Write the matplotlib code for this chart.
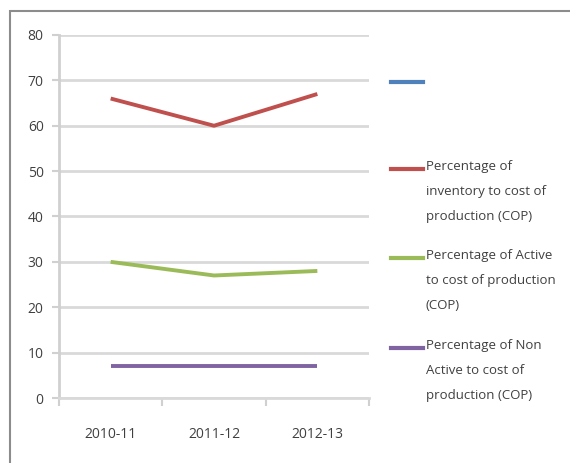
import matplotlib
matplotlib.use("Agg")
import matplotlib.pyplot as plt
from matplotlib.lines import Line2D
from matplotlib.patches import Rectangle
from matplotlib import font_manager

available = {f.name for f in font_manager.fontManager.ttflist}
fam = [f for f in ["Liberation Sans Narrow", "Open Sans", "DejaVu Sans"] if f in available]
plt.rcParams['font.family'] = fam

categories = ["2010-11", "2011-12", "2012-13"]
series_names = [
    "",
    "Percentage of\ninventory to cost of\nproduction (COP)",
    "Percentage of Active\nto cost of production\n(COP)",
    "Percentage of Non\nActive to cost of\nproduction (COP)",
]
series_values = [
    [None, None, None],
    [66, 60, 67],
    [30, 27, 28],
    [7, 7, 7],
]
colors = ["#4f81bd", "#c0504d", "#9bbb59", "#8064a2"]
yticks = [0, 10, 20, 30, 40, 50, 60, 70, 80]

W, H = 570, 463
fig = plt.figure(figsize=(W / 100, H / 100), dpi=100)
fig.patch.set_facecolor("white")

# outer chart border
fig.add_artist(Rectangle((10 / W, -0.05), 1.0, 1 - 11 / H + 0.05, transform=fig.transFigure,
                         fill=False, edgecolor="#8c8c8c", linewidth=1.5))

ax = fig.add_axes([59 / W, 1 - 398 / H, (369 - 59) / W, (398 - 35) / H])
x = list(range(len(categories)))
for name, vals, c in zip(series_names, series_values, colors):
    if all(v is None for v in vals):
        continue
    ax.plot(x, vals, color=c, linewidth=2.8, solid_capstyle="butt")

ax.set_xlim(-0.5, len(categories) - 0.5)
ax.set_ylim(0, 80)
ax.set_yticks(yticks)
ax.set_xticks(x)
ax.set_xticklabels(categories)
ax.set_xticks([i - 0.5 for i in range(len(categories) + 1)], minor=True)
ax.grid(axis="y", color="#d9d9d9", linewidth=2)
ax.set_axisbelow(True)
for s in ["top", "right"]:
    ax.spines[s].set_visible(False)
ax.spines["left"].set_color("#d0d0d0")
ax.spines["left"].set_linewidth(2)
ax.spines["bottom"].set_color("#d9d9d9")
ax.spines["bottom"].set_linewidth(2)
ax.tick_params(axis="y", length=5, width=1.5, color="#d0d0d0", labelsize=10, labelcolor="#404040", pad=6)
ax.tick_params(axis="x", which="major", length=0, labelsize=10, labelcolor="#404040", pad=21)
ax.tick_params(axis="x", which="minor", length=6, width=1.5, color="#d0d0d0")

# legend
leg_y = [82, 169, 258, 348]
for name, c, yy in zip(series_names, colors, leg_y):
    fig.add_artist(Line2D([391 / W, 423 / W], [1 - yy / H, 1 - yy / H], transform=fig.transFigure,
                          color=c, linewidth=3))
    if name:
        fig.text(426 / W, 1 - (yy - 9) / H, name, ha="left", va="top", fontsize=9.5,
                 color="#404040", linespacing=2.2)

fig.savefig("out.png", dpi=100, facecolor="white")
